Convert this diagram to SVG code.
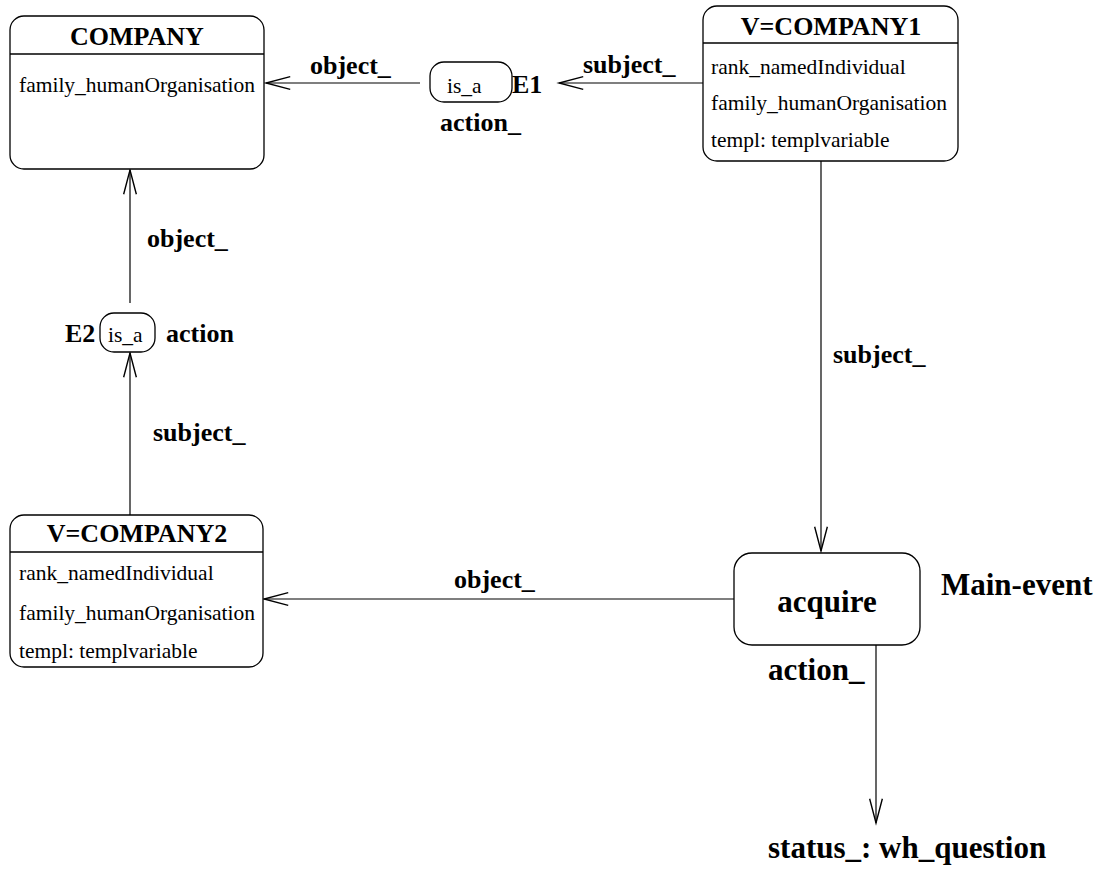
<svg xmlns="http://www.w3.org/2000/svg" width="1101" height="871" viewBox="0 0 1101 871">
<style>
.box{fill:#fff;stroke:#000;stroke-width:1.3}
.sep{stroke:#000;stroke-width:1.3}
.title{font-family:"Liberation Serif",serif;font-weight:bold;font-size:26px;fill:#000}
.row{font-family:"Liberation Serif",serif;font-size:21.5px;fill:#000}
.lbl{font-family:"Liberation Serif",serif;font-weight:bold;font-size:26px;fill:#000}
.big{font-family:"Liberation Serif",serif;font-weight:bold;font-size:31px;fill:#000}
.edge{stroke:#000;stroke-width:1.2;fill:none}
</style>
<defs>
<marker id="arr" markerUnits="userSpaceOnUse" markerWidth="30" markerHeight="20" viewBox="-23 -8 26 16" refX="0" refY="0" orient="auto">
<path d="M-21,-5.5 L0,0 L-21,5.5" fill="none" stroke="#000" stroke-width="1.2"/>
</marker>
</defs>
<rect width="1101" height="871" fill="#fff"/>
<g id="connectors">
<line class="edge" x1="420" y1="83" x2="266" y2="83" marker-end="url(#arr)"/>
<line class="edge" x1="703" y1="83" x2="559" y2="83" marker-end="url(#arr)"/>
<line class="edge" x1="130" y1="303" x2="130" y2="170" marker-end="url(#arr)"/>
<line class="edge" x1="130" y1="515" x2="130" y2="353" marker-end="url(#arr)"/>
<line class="edge" x1="821" y1="161" x2="821" y2="551" marker-end="url(#arr)"/>
<line class="edge" x1="734" y1="599" x2="264" y2="599" marker-end="url(#arr)"/>
<line class="edge" x1="876" y1="645" x2="876" y2="823" marker-end="url(#arr)"/>
<text class="lbl" x="310" y="74">object_</text>
<text class="lbl" x="583" y="73">subject_</text>
<text class="lbl" x="147" y="247">object_</text>
<text class="lbl" x="153" y="441">subject_</text>
<text class="lbl" x="833" y="363">subject_</text>
<text class="lbl" x="454" y="588">object_</text>
</g>
<g id="company">
<rect class="box" x="10" y="16" width="254" height="153" rx="14"/>
<line class="sep" x1="10" y1="54" x2="264" y2="54"/>
<text class="title" x="137" y="45" text-anchor="middle">COMPANY</text>
<text class="row" x="19" y="92">family_humanOrganisation</text>
</g>
<g id="company1">
<rect class="box" x="703" y="6" width="255" height="155" rx="14"/>
<line class="sep" x1="703" y1="43" x2="958" y2="43"/>
<text class="title" x="831" y="35" text-anchor="middle">V=COMPANY1</text>
<text class="row" x="711" y="74">rank_namedIndividual</text>
<text class="row" x="711" y="110">family_humanOrganisation</text>
<text class="row" x="711" y="147">templ: templvariable</text>
</g>
<g id="e1">
<rect class="box" x="430" y="62" width="82" height="40" rx="14"/>
<text class="row" x="447" y="93">is_a</text>
<text class="lbl" x="512" y="93">E1</text>
<text class="lbl" x="440" y="131">action_</text>
</g>
<g id="e2">
<rect class="box" x="100" y="313" width="55" height="39" rx="14"/>
<text class="row" x="108" y="342">is_a</text>
<text class="lbl" x="65" y="342">E2</text>
<text class="lbl" x="166" y="342">action</text>
</g>
<g id="company2">
<rect class="box" x="10" y="515" width="253" height="152" rx="14"/>
<line class="sep" x1="10" y1="552" x2="263" y2="552"/>
<text class="title" x="137" y="542" text-anchor="middle">V=COMPANY2</text>
<text class="row" x="19" y="580">rank_namedIndividual</text>
<text class="row" x="19" y="620">family_humanOrganisation</text>
<text class="row" x="19" y="658">templ: templvariable</text>
</g>
<g id="acquire">
<rect class="box" x="734" y="553" width="186" height="92" rx="18"/>
<text class="big" x="827" y="612" text-anchor="middle">acquire</text>
<text class="big" x="941" y="595">Main-event</text>
<text class="big" x="768" y="680">action_</text>
</g>
<g id="status">
<text class="big" x="768" y="858">status_: wh_question</text>
</g>
</svg>
